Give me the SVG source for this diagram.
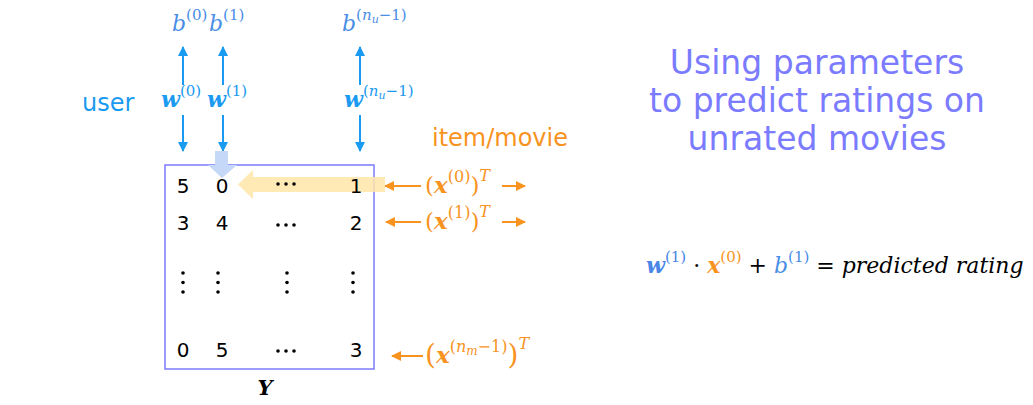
<svg xmlns="http://www.w3.org/2000/svg" width="1033" height="405" viewBox="0 0 1033 405">
<defs>
<marker id="ab" viewBox="0 0 10 10" refX="9" refY="5" markerWidth="10" markerHeight="10" markerUnits="userSpaceOnUse" orient="auto"><path d="M0,0 L10,5 L0,10 z" fill="#1a9af0"/></marker>
<marker id="ao" viewBox="0 0 10 10" refX="9" refY="5" markerWidth="10" markerHeight="10" markerUnits="userSpaceOnUse" orient="auto"><path d="M0,0 L10,5 L0,10 z" fill="#f7931e"/></marker>
</defs>
<style>
.sans{font-family:"DejaVu Sans","Liberation Sans",sans-serif}
.m{font-family:"DejaVu Serif","Liberation Serif",serif}
.num{font-family:"DejaVu Sans","Liberation Sans",sans-serif;font-size:20px;fill:#000;text-anchor:middle}
.bl{stroke:#1a9af0;stroke-width:2;fill:none;marker-end:url(#ab)}
.ol{stroke:#f7931e;stroke-width:2;fill:none;marker-end:url(#ao)}
.w{fill:#1a9af0;font-weight:bold;font-style:italic;font-size:22px}
.b{fill:#4a8ee6;font-style:italic;font-size:22px}
.x{fill:#f7931e;font-size:23px}
.bi{font-weight:bold;font-style:italic}
.sup{font-size:15px;font-style:normal;font-weight:normal}
.xsup{font-size:16px;font-style:normal;font-weight:normal}
.it{font-style:italic}
.sub{font-size:11px;font-style:italic}
.xsub{font-size:12px;font-style:italic}
.dot{fill:#000}
</style>
<rect width="1033" height="405" fill="#fff"/>

<g id="connectors">
<line class="bl" x1="183" y1="85" x2="183" y2="47"/>
<line class="bl" x1="223" y1="85" x2="223" y2="47"/>
<line class="bl" x1="360" y1="85" x2="360" y2="47"/>
<line class="bl" x1="183" y1="115" x2="183" y2="151"/>
<line class="bl" x1="223" y1="115" x2="223" y2="151"/>
<line class="bl" x1="360" y1="115" x2="360" y2="151"/>
<line class="ol" x1="421" y1="186" x2="385" y2="186"/>
<line class="ol" x1="502" y1="186" x2="525" y2="186"/>
<line class="ol" x1="421" y1="222" x2="386" y2="222"/>
<line class="ol" x1="502" y1="222" x2="525" y2="222"/>
<line class="ol" x1="423" y1="356" x2="392" y2="356"/>
</g>

<g id="user-label"><text class="sans" x="82" y="111" font-size="24" fill="#1a9af0">user</text></g>
<g id="item-label"><text class="sans" x="432" y="146" font-size="24" fill="#f7931e">item/movie</text></g>

<g id="b-params" class="m">
<text x="172" y="31" class="b">b<tspan class="sup" dy="-11">(0)</tspan></text>
<text x="209" y="31" class="b">b<tspan class="sup" dy="-11">(1)</tspan></text>
<text x="342" y="31" class="b">b<tspan class="sup" dy="-11">(<tspan class="it">n</tspan><tspan class="sub" dy="3">u</tspan><tspan dy="-3">−1)</tspan></tspan></text>
</g>

<g id="w-params" class="m">
<text x="161" y="107" class="w">w<tspan class="sup" dy="-11">(0)</tspan></text>
<text x="207" y="107" class="w">w<tspan class="sup" dy="-11">(1)</tspan></text>
<text x="344" y="107" class="w">w<tspan class="sup" dy="-11">(<tspan class="it">n</tspan><tspan class="sub" dy="3">u</tspan><tspan dy="-3">−1)</tspan></tspan></text>
</g>

<g id="matrix">
<rect x="165" y="165" width="209" height="204" fill="none" stroke="#7b7bff" stroke-width="1.5"/>
<polygon points="215,151 228,151 228,165 237,165 222,178 208,165 215,165" fill="#c5d8f8"/>
<polygon points="385,177 253,177 253,170 238,184.5 253,199 253,192 385,192" fill="#ffe6a8" opacity="0.85"/>
<text class="num" x="183" y="193">5</text>
<text class="num" x="222" y="193">0</text>
<text class="num" x="356" y="193">1</text>
<text class="num" x="183" y="230">3</text>
<text class="num" x="222" y="230">4</text>
<text class="num" x="356" y="230">2</text>
<text class="num" x="183" y="357">0</text>
<text class="num" x="222" y="357">5</text>
<text class="num" x="356" y="357">3</text>
<g class="dot">
<circle cx="278" cy="184" r="1.8"/><circle cx="286" cy="184" r="1.8"/><circle cx="294" cy="184" r="1.8"/>
<circle cx="278" cy="225" r="1.8"/><circle cx="286" cy="225" r="1.8"/><circle cx="294" cy="225" r="1.8"/>
<circle cx="278" cy="351" r="1.8"/><circle cx="286" cy="351" r="1.8"/><circle cx="294" cy="351" r="1.8"/>
<circle cx="183" cy="273" r="1.8"/><circle cx="183" cy="282.5" r="1.8"/><circle cx="183" cy="292" r="1.8"/>
<circle cx="218" cy="273" r="1.8"/><circle cx="218" cy="282.5" r="1.8"/><circle cx="218" cy="292" r="1.8"/>
<circle cx="287" cy="273" r="1.8"/><circle cx="287" cy="282.5" r="1.8"/><circle cx="287" cy="292" r="1.8"/>
<circle cx="353" cy="273" r="1.8"/><circle cx="353" cy="282.5" r="1.8"/><circle cx="353" cy="292" r="1.8"/>
</g>
<text class="m" x="265" y="395" font-size="21" font-weight="bold" font-style="italic" text-anchor="middle">Y</text>
</g>

<g id="x-params" class="m">
<text x="425" y="193" class="x">(<tspan class="bi">x</tspan><tspan class="xsup" dy="-11">(0)</tspan><tspan dy="11">)</tspan><tspan class="xsup it" dy="-12">T</tspan></text>
<text x="425" y="229" class="x">(<tspan class="bi">x</tspan><tspan class="xsup" dy="-11">(1)</tspan><tspan dy="11">)</tspan><tspan class="xsup it" dy="-12">T</tspan></text>
<text x="425" y="364" class="x"><tspan font-size="28">(</tspan><tspan class="bi" dy="-1">x</tspan><tspan class="xsup" dy="-11">(<tspan class="it">n</tspan><tspan class="xsub" dy="3">m</tspan><tspan dy="-3">−1)</tspan></tspan><tspan font-size="28" dy="12">)</tspan><tspan class="xsup it" dy="-15">T</tspan></text>
</g>

<g id="title">
<text class="sans" font-size="33" fill="#7b7bff" text-anchor="middle"><tspan x="817" y="74">Using parameters</tspan><tspan x="817" y="112">to predict ratings on</tspan><tspan x="817" y="150">unrated movies</tspan></text>
</g>

<g id="equation">
<text class="m" x="646" y="273" font-size="22"><tspan fill="#4a86e8" class="bi">w</tspan><tspan fill="#4a86e8" class="sup" dy="-11">(1)</tspan><tspan dy="11"> · </tspan><tspan fill="#f7931e" class="bi">x</tspan><tspan fill="#f7931e" class="sup" dy="-11">(0)</tspan><tspan dy="11"> + </tspan><tspan fill="#4a8ee6" class="it">b</tspan><tspan fill="#4a8ee6" class="sup" dy="-11">(1)</tspan><tspan dy="11"> = </tspan><tspan class="it">predicted rating</tspan></text>
</g>
</svg>
